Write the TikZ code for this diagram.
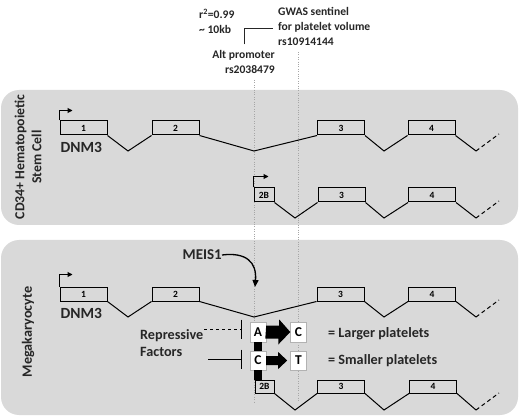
\documentclass[tikz,border=0pt]{standalone}
\usepackage{fontspec}
\setmainfont{Carlito}
\usetikzlibrary{arrows.meta,calc}
\definecolor{panelgray}{RGB}{217,217,217}
\definecolor{inkgray}{RGB}{38,38,38}
\tikzset{
  exon/.style={draw, line width=1pt, minimum width=47pt, minimum height=14pt, inner sep=0pt, font=\fontsize{9.5}{9.5}\selectfont\bfseries},
  allele/.style={draw=gray!60, fill=white, minimum width=16pt, minimum height=20pt, inner sep=0pt, font=\fontsize{13.5}{13.5}\selectfont\bfseries},
  panel/.style={fill=panelgray, rounded corners=18pt},
  intron/.style={line width=1pt},
  tail/.style={line width=1pt, dash pattern=on 4pt off 3pt},
  label/.style={inner sep=0pt, text=inkgray, font=\fontsize{14.2}{16.5}\selectfont\bfseries},
  snp/.style={inner sep=0pt, text=inkgray, font=\fontsize{11.6}{15}\selectfont\bfseries},
  tss/.style={line width=1pt, -{Triangle[length=5pt,width=5pt]}},
  guide/.style={gray!70, dotted},
  repress/.style={line width=1pt, -{Bar[width=19pt]}, shorten >=8pt},
}
\begin{document}
\begin{tikzpicture}[x=1pt,y=-1pt]
    \useasboundingbox (0,0) rectangle (520,417);

    % cell panels
    \fill[panel] (1,90) rectangle (518,225);
    \fill[panel] (1,240) rectangle (518,415);
    \node[label, rotate=90, align=center, font=\fontsize{13.8}{17}\selectfont\bfseries] (hsc) at (28,157) {CD34+ Hematopoietic\\Stem Cell};
    \node[label, rotate=90] (mk) at (28,332) {Megakaryocyte};

    % SNP annotations
    \node[snp, anchor=north west, align=left] (ld) at (199,8.5) {r\textsuperscript{2}=0.99\\\textasciitilde\ 10kb};
    \node[snp, anchor=north west, align=left] (gwas) at (278,7.5) {GWAS sentinel\\for platelet volume\\rs10914144};
    \node[snp, anchor=north east, align=right] (alt) at (275,50.5) {Alt promoter\\rs2038479};
    \draw[inkgray, line width=1pt] ($(alt.north)+(1,-6)$) |- (273,29);
    \draw[guide] (254,80) -- (254,402);
    \draw[guide] (298,52) -- (298,402);

    % HSC: full length transcript
    \node[exon] (t1) at (83.5,128) {1};
    \node[exon] (t2) at (175.5,128) {2};
    \node[exon] (t3) at (341,128) {3};
    \node[exon] (t4) at (431.5,128) {4};
    \coordinate (tend) at (476,151);
    \draw[intron] (t1.south east) -- (128,151) -- (t2.south west);
    \draw[intron] (t2.south east) -- (254,151) -- (t3.south west);
    \draw[intron] (t3.south east) -- (384,151) -- (t4.south west);
    \draw[intron] (t4.south east) -- (tend);
    \draw[tail] (tend) -- ++(23,-17);
    \draw[tss] (t1.north west) -- ++(0,-10) -- ++(13,0);
    \node[label, anchor=north west, font=\fontsize{15.5}{15.5}\selectfont\bfseries] (gene1) at ($(t1.south west)+(1,6.5)$) {DNM3};

    % HSC: alternative transcript
    \node[exon, minimum width=20pt] (s2b) at (264,195) {2B};
    \node[exon] (s3) at (341.5,195) {3};
    \node[exon] (s4) at (432,195) {4};
    \coordinate (send) at (476,218);
    \draw[intron] (s2b.south east) -- (295,218) -- (s3.south west);
    \draw[intron] (s3.south east) -- (384,218) -- (s4.south west);
    \draw[intron] (s4.south east) -- (send);
    \draw[tail] (send) -- ++(23,-17);
    \draw[tss] (s2b.north west) -- ++(0,-11) -- ++(15,0);

    % megakaryocyte: full length transcript
    \node[exon] (m1) at (83.5,294) {1};
    \node[exon] (m2) at (175.5,294) {2};
    \node[exon] (m3) at (340.5,294) {3};
    \node[exon] (m4) at (432,294) {4};
    \coordinate (mend) at (476,317);
    \draw[intron] (m1.south east) -- (128,317) -- (m2.south west);
    \draw[intron] (m2.south east) -- (254,317) -- (m3.south west);
    \draw[intron] (m3.south east) -- (384,317) -- (m4.south west);
    \draw[intron] (m4.south east) -- (mend);
    \draw[tail] (mend) -- ++(23,-17);
    \draw[tss] (m1.north west) -- ++(0,-12) -- ++(13,0);
    \node[label, anchor=north west, font=\fontsize{15.5}{15.5}\selectfont\bfseries] (gene2) at ($(m1.south west)+(1,6.5)$) {DNM3};

    % megakaryocyte: alternative transcript
    \node[exon, minimum width=19pt, minimum height=13pt] (n2b) at (264.5,386.5) {2B};
    \node[exon, minimum height=13pt] (n3) at (341,386.5) {3};
    \node[exon, minimum height=13pt] (n4) at (433,386.5) {4};
    \coordinate (nend) at (476,410);
    \draw[intron] (n2b.south east) -- (295,410) -- (n3.south west);
    \draw[intron] (n3.south east) -- (384,410) -- (n4.south west);
    \draw[intron] (n4.south east) -- (nend);
    \draw[tail] (nend) -- ++(23,-17);

    % alleles
    \node[allele] (a1) at (258,332) {A};
    \node[allele] (c1) at (298.5,332) {C};
    \node[allele, minimum height=19pt] (c2) at (258,360.5) {C};
    \node[allele, minimum height=19pt] (t2b) at (298.5,360.5) {T};
    \draw[line width=8pt] (a1.south) -- (c2.north);
    \draw[line width=8pt] (c2.south) -- (c2.south |- n2b.north);
    \fill (a1.east) ++(0,-6.5) -- ++(13,0) -- ++(0,-6) -- (c1.west) -- ++(-12,12.5) -- ++(0,-6) -- ++(-13,0) -- cycle;
    \fill (c2.east) ++(0,-4.5) -- ++(12,0) -- ++(0,-4) -- ++(9,8.5) -- ++(-9,8.5) -- ++(0,-4) -- ++(-12,0) -- cycle;
    \node[label, anchor=west] (large) at (328,334) {= Larger platelets};
    \node[label, anchor=west] (small) at (328,361) {= Smaller platelets};

    % regulators
    \node[label, anchor=east, font=\fontsize{15}{15}\selectfont\bfseries] (meis) at (222,255) {MEIS1};
    \draw[line width=1.3pt, -{Triangle[length=7pt,width=6pt]}] (meis.east) .. controls (246,252) and (257,262) .. (255,287);
    \node[label, anchor=north west, align=left] (rf) at (140,329.5) {Repressive\\Factors};
    \coordinate (rdash) at (204,329);
    \coordinate (rsolid) at (208,359);
    \draw[repress, dashed] (rdash) -- (rdash -| a1.west);
    \draw[repress] (rsolid) -- (rsolid -| c2.west);
\end{tikzpicture}
\end{document}
